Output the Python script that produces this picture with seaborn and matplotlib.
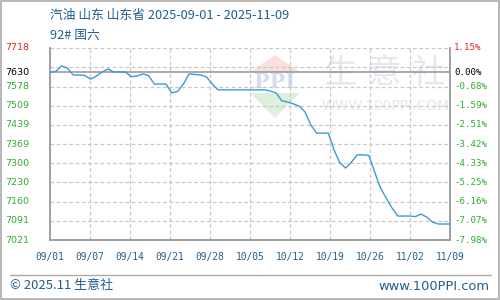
import matplotlib
matplotlib.use('Agg')
import matplotlib.pyplot as plt
import matplotlib.transforms as mtrans
from matplotlib.patches import Polygon, Rectangle
from matplotlib.lines import Line2D
import pandas as pd
import seaborn as sns

# ---------------- data ----------------
title_line1 = "汽油 山东 山东省 2025-09-01 - 2025-11-09"
title_line2 = "92# 国六"
footer_left = "© 2025.11 生意社"
footer_right = "www.100PPI.com"

x_labels = ["09/01", "09/07", "09/14", "09/21", "09/28", "10/05",
            "10/12", "10/19", "10/26", "11/02", "11/09"]

days = list(range(70))
prices = [7630, 7633, 7653, 7645, 7620, 7620, 7618, 7605, 7616, 7631,
          7642, 7631, 7631, 7631, 7614, 7616, 7624, 7618, 7587, 7587,
          7587, 7555, 7560, 7587, 7624, 7622, 7620, 7613, 7587, 7566,
          7566, 7566, 7566, 7566, 7566, 7566, 7566, 7566, 7562, 7555,
          7526, 7522, 7515, 7507, 7486, 7438, 7409, 7409, 7409, 7348,
          7301, 7282, 7304, 7330, 7330, 7328, 7268, 7210, 7173, 7137,
          7108, 7108, 7108, 7106, 7115, 7104, 7086, 7079, 7079, 7079]

base_price = 7630
y_min, y_max = 7021, 7718
y_grid = [7021, 7091, 7160, 7230, 7300, 7369, 7439, 7509, 7578, 7648, 7718]
y_tick_values = [7021, 7091, 7160, 7230, 7300, 7369, 7439, 7509, 7578, 7630, 7718]
left_labels = ["7021", "7091", "7160", "7230", "7300", "7369", "7439",
               "7509", "7578", "7630", "7718"]
right_labels = ["-7.98%", "-7.07%", "-6.16%", "-5.25%", "-4.33%", "-3.42%",
                "-2.51%", "-1.59%", "-0.68%", "0.00%", "1.15%"]

# ---------------- style ----------------
sns.set_theme(style="white")
plt.rcParams['font.family'] = ['Noto Sans CJK SC', 'DejaVu Sans']

BLUE_TXT = '#1f5f8f'
LINE_C = '#3a9ad9'
GREEN = '#33aa33'
RED = '#ee2222'
GRID_C = '#c8c8c8'
SPINE_C = '#999999'

fig = plt.figure(figsize=(5, 3), dpi=100)
ax = fig.add_axes([0.10, 0.20, 0.80, 0.64])
ax.set_facecolor('white')

df = pd.DataFrame({'day': days, 'price': prices})
sns.lineplot(data=df, x='day', y='price', ax=ax, color=LINE_C,
             linewidth=1.0, zorder=5)

ax.set_xlim(days[0], days[-1])
ax.set_ylim(y_min, y_max)
ax.set_xticks([])
ax.set_yticks([])
ax.set_xlabel('')
ax.set_ylabel('')

# grid
n = len(x_labels)
xt = [days[0] + (days[-1] - days[0]) * i / (n - 1) for i in range(n)]
for v in y_grid:
    ax.axhline(v, color=GRID_C, linestyle=(0, (3, 2)), linewidth=0.9, zorder=1)
for x in xt[1:-1]:
    ax.axvline(x, color=GRID_C, linestyle=(0, (3, 2)), linewidth=0.9, zorder=1)
ax.axhline(base_price, color=SPINE_C, linewidth=1.2, zorder=3)

for s in ['left', 'bottom', 'right']:
    ax.spines[s].set_color(SPINE_C)
    ax.spines[s].set_linewidth(1.3)
ax.spines['top'].set_visible(False)

# y labels
tl = mtrans.blended_transform_factory(fig.transFigure, ax.transData)
for v, lab, rlab in zip(y_tick_values, left_labels, right_labels):
    if v > base_price:
        c = RED
    elif v == base_price:
        c = 'black'
    else:
        c = GREEN
    ax.text(0.010, v, lab, transform=tl, ha='left', va='center', color=c,
            fontsize=6.8, family='DejaVu Sans', clip_on=False)
    ax.text(0.908, v, rlab, transform=tl, ha='left', va='center', color=c,
            fontsize=6.6, family='DejaVu Sans Mono', clip_on=False)

# x labels
tx = mtrans.blended_transform_factory(ax.transData, fig.transFigure)
for x, lab in zip(xt, x_labels):
    ax.text(x, 1 - 257 / 300, lab, transform=tx, ha='center', va='center',
            color=BLUE_TXT, fontsize=6.9, family='DejaVu Sans Mono', clip_on=False)

# header
fig.text(50 / 500, 1 - 15 / 300, title_line1, ha='left', va='center',
         color=BLUE_TXT, fontsize=9.2)
fig.text(50 / 500, 1 - 35 / 300, title_line2, ha='left', va='center',
         color=BLUE_TXT, fontsize=9.2)

# watermark
def fx(px):
    return px / 500
def fy(py):
    return 1 - py / 300

ax.add_patch(Polygon([(fx(275), fy(55)), (fx(250), fy(72)), (fx(300), fy(72))],
                     closed=True, transform=fig.transFigure, facecolor='#fbe0e0',
                     edgecolor='none', zorder=0.2, clip_on=False))
ax.add_patch(Polygon([(fx(250), fy(93)), (fx(300), fy(93)), (fx(275), fy(118))],
                     closed=True, transform=fig.transFigure, facecolor='#dcf0dc',
                     edgecolor='none', zorder=0.2, clip_on=False))
ax.text(fx(275), fy(82), "PPI", transform=fig.transFigure, ha='center', va='center',
        color='#d4dced', fontsize=15, fontweight='bold', family='DejaVu Serif',
        zorder=0.3)
for ch, px in zip("生意社", [340, 385, 428]):
    ax.text(fx(px), fy(73), ch, transform=fig.transFigure, ha='center', va='center',
            color='#e3e7f0', fontsize=24, zorder=0.3)
ax.text(fx(386), fy(106), "WWW.100PPI.COM", transform=fig.transFigure, ha='center',
        va='center', color='#e8e8e8', fontsize=10, family='DejaVu Sans', zorder=0.3)

# footer
fig.add_artist(Line2D([fx(10), fx(491)], [fy(275), fy(275)], transform=fig.transFigure,
                      color='#aaaaaa', linewidth=1.0))
fig.text(fx(10), fy(286), footer_left, ha='left', va='center', color=BLUE_TXT,
         fontsize=9.4)
fig.text(fx(490), fy(286), footer_right, ha='right', va='center', color=BLUE_TXT,
         fontsize=9.4, family='DejaVu Sans')

# outer border
fig.add_artist(Rectangle((0.001, 0.002), 0.997, 0.996, transform=fig.transFigure,
                         fill=False, edgecolor='#aaaaaa', linewidth=1.2))

fig.savefig('out.png', dpi=100)
